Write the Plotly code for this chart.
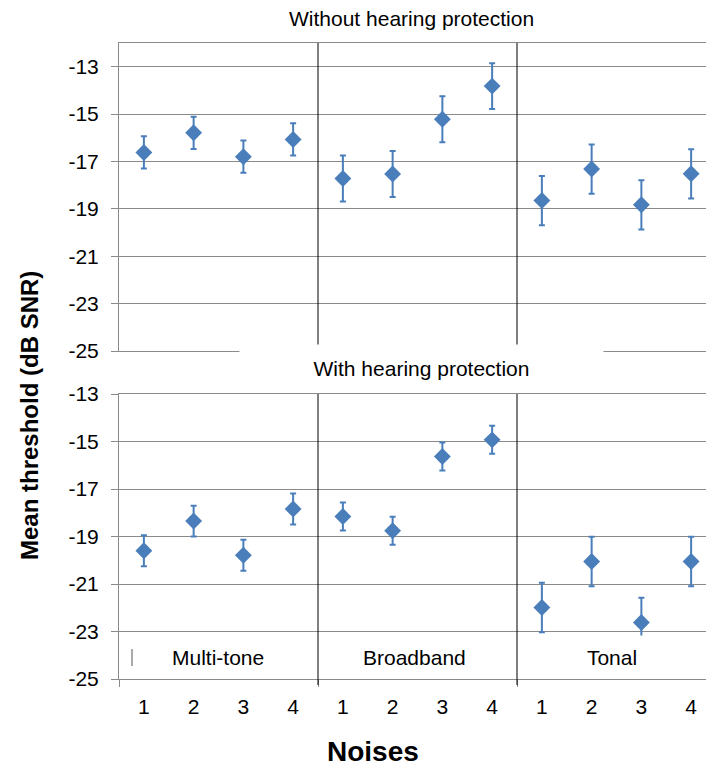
import plotly.graph_objects as go

# Noise conditions: three noise families, four noises each
families = ["Multi-tone", "Broadband", "Tonal"]
noise_labels = ["1", "2", "3", "4"] * 3
positions = list(range(1, 13))

# Mean detection threshold (dB SNR) and error-bar half-widths
without_mean = [-16.62, -15.79, -16.80, -16.07,
                -17.72, -17.53, -15.22, -13.82,
                -18.65, -17.32, -18.83, -17.52]
without_err = [0.68, 0.68, 0.68, 0.68,
               0.97, 0.97, 0.97, 0.97,
               1.04, 1.04, 1.04, 1.04]

with_mean = [-19.60, -18.35, -19.79, -17.84,
             -18.16, -18.76, -15.63, -14.93,
             -21.99, -20.05, -22.62, -20.05]
with_err = [0.65, 0.65, 0.65, 0.65,
            0.59, 0.59, 0.59, 0.59,
            1.04, 1.04, 1.04, 1.04]

y_ticks = [-13, -15, -17, -19, -21, -23, -25]

BLUE = "#4a7ebb"
GRID = "#8a8a8a"
FONT = "Liberation Sans, Arial, sans-serif"

W, H = 706, 767
ML, MR, MT, MB = 119, 0, 43, 88
plot_w = W - ML - MR
plot_h = H - MT - MB
top_dom = [(679 - 351) / plot_h, 1.0]
bot_dom = [0.0, (679 - 394) / plot_h]
x_range = [0.5, 0.5 + plot_w / 49.75]


def px_x(px):
    return (px - ML) / plot_w


def px_y(py):
    return (679 - py) / plot_h


fig = go.Figure()

for mean, err, xa, ya in [(without_mean, without_err, "x", "y"),
                          (with_mean, with_err, "x2", "y2")]:
    fig.add_trace(go.Scatter(
        x=positions, y=mean, mode="markers", xaxis=xa, yaxis=ya,
        marker=dict(symbol="diamond", size=13, color=BLUE),
        error_y=dict(type="data", array=err, visible=True,
                     color=BLUE, thickness=2, width=3),
        showlegend=False, cliponaxis=False,
    ))

axis_common = dict(
    showgrid=False, zeroline=False, linecolor=GRID, linewidth=1,
    showline=True,
)
yaxis_common = dict(
    tickvals=y_ticks, ticktext=[str(v) for v in y_ticks],
    showgrid=True, gridcolor=GRID, gridwidth=1,
    zeroline=False, showline=True, linecolor=GRID, linewidth=1,
    ticks="outside", ticklen=7, tickcolor=GRID,
    tickfont=dict(family=FONT, size=21, color="black"),
    ticklabelstandoff=8,
)

fig.update_layout(
    width=W, height=H,
    margin=dict(l=ML, r=MR, t=MT, b=MB),
    plot_bgcolor="white", paper_bgcolor="white",
    xaxis=dict(domain=[0, 1], anchor="y", range=x_range,
               showticklabels=False, ticks="", mirror=True, **axis_common),
    yaxis=dict(domain=top_dom, anchor="x", range=[-25, -12], **yaxis_common),
    xaxis2=dict(domain=[0, 1], anchor="y2", range=x_range,
                tickvals=positions, ticktext=noise_labels, ticks="",
                tickfont=dict(family=FONT, size=21, color="black"),
                ticklabelstandoff=9,
                minor=dict(tickmode="array", tickvals=[0.5, 4.5, 8.5],
                           ticks="outside", ticklen=7, tickcolor=GRID,
                           showgrid=False),
                mirror=True, **axis_common),
    yaxis2=dict(domain=bot_dom, anchor="x2", range=[-25, -13], **yaxis_common),
)

# Vertical dividers between noise families
for xv in [4.5, 8.5]:
    fig.add_shape(type="line", xref="x", yref="paper", x0=xv, x1=xv,
                  y0=top_dom[0], y1=top_dom[1],
                  line=dict(color="black", width=1))
    fig.add_shape(type="line", xref="x2", yref="paper", x0=xv, x1=xv,
                  y0=px_y(685), y1=bot_dom[1],
                  line=dict(color="black", width=1))

# small stray mark beside the Multi-tone label
fig.add_shape(type="line", xref="paper", yref="paper",
              x0=px_x(132), x1=px_x(132), y0=px_y(666), y1=px_y(649),
              line=dict(color="#555555", width=1))


def label(text, cx, cy, size, **kw):
    fig.add_annotation(text=text, xref="paper", yref="paper",
                       x=px_x(cx), y=px_y(cy), xanchor="center",
                       yanchor="middle", showarrow=False,
                       font=dict(family=FONT, size=size, color="black"), **kw)


# Panel titles
label("Without hearing protection", 411.5, 18, 21)
label("With hearing protection", 421.5, 368, 21,
      width=363, height=46, bgcolor="white", borderpad=0)

# Noise family labels inside the lower panel
label(families[0], 218, 657, 21)
label(families[1], 415, 657, 21)
label(families[2], 612, 657, 21, width=172, height=42, bgcolor="white", borderpad=0)

# Axis titles
label("<b>Mean threshold (dB SNR)</b>", 29, 416, 24, textangle=-90)
label("<b>Noises</b>", 373, 751, 28, height=30, borderpad=0)

fig.write_html("out.html")
